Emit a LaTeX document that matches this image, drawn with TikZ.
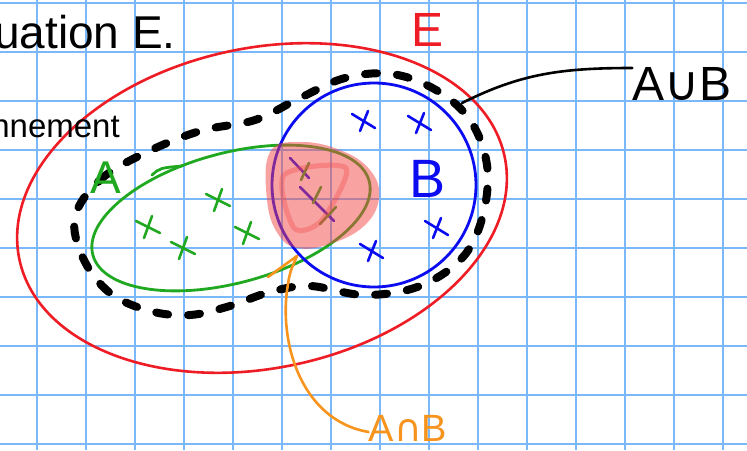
\documentclass[tikz,border=0pt]{standalone}
\usepackage{fontspec}
\setmainfont{Liberation Sans}
\newfontfamily\symf{DejaVu Sans}
\definecolor{gridc}{RGB}{122,184,250}
\definecolor{redE}{RGB}{238,28,36}
\definecolor{grnA}{RGB}{32,168,32}
\definecolor{bluB}{RGB}{12,12,240}
\definecolor{orng}{RGB}{247,148,30}
\definecolor{blobc}{RGB}{243,71,71}
\begin{document}
\begin{tikzpicture}[x=1pt,y=-1pt,
  gridline/.style={gridc, line width=1.8pt},
  setE/.style={redE, line width=2.6pt},
  setA/.style={grnA, line width=2.8pt},
  setB/.style={bluB, line width=2.8pt},
  unionline/.style={black, line width=8pt, line cap=round, dash pattern=on 12pt off 20pt},
  xa/.style={grnA, line width=2.6pt, line cap=round},
  xb/.style={bluB, line width=2.6pt, line cap=round},
  pointer/.style={line width=2.6pt, line cap=round},
  lbl/.style={inner sep=0pt, anchor=base}]
\useasboundingbox (0,0) rectangle (747,450);
\clip (0,0) rectangle (747,450);
\fill[white] (0,0) rectangle (747,450);
% grid
\foreach \x in {37,86,...,740} \draw[gridline] (\x,0) -- (\x,450);
\foreach \y in {3,52,...,450} \draw[gridline] (0,\y) -- (747,\y);
% universe E
\draw[setE, shift={(262,208)}, rotate=12] (0,0) ellipse [x radius=248pt, y radius=160pt];
% union dashed
\draw[unionline] plot[smooth cycle, tension=0.6] coordinates {
 (75,217) (100,180) (145,153) (200,131) (255,120) (300,98) (345,78) (392,74)
 (436,90) (470,120) (487,165) (483,215) (463,257) (420,286) (365,295)
 (310,286) (270,292) (230,306) (190,315) (150,311) (110,293) (83,258)};
% set A
\draw[setA, shift={(231,218)}, rotate=15] (0,0) ellipse [x radius=143pt, y radius=65pt];
\draw[setA, line cap=round] (152,175) .. controls (160,168) .. (182,166);
% set B
\draw[setB] (374,185) circle [radius=102pt];
% crosses in A
\foreach \p in {(148,227),(218,200),(183,248),(247,233)}
  \draw[xa] \p +(-12,-6) -- +(12,6) +(4,-11) -- +(-4,11);
% crosses in B
\foreach \p in {(364,121),(420,123),(437,228),(372,251)}
  \draw[xb] \p +(-12,-7) -- +(11,7) +(4,-10) -- +(-4,10);
% crosses in intersection
\draw[xb] (290,158) -- (309,178);
\draw[xb] (300,187) -- (334,221);
\draw[xa] (309,163) -- (301,180);
\draw[xa] (321,187) -- (313,203);
\draw[xa] (336,207) -- (320,224);
% intersection highlight
\fill[blobc, opacity=0.5] plot[smooth cycle, tension=0.7] coordinates {
 (270,152) (300,142) (340,150) (370,170) (379,198) (364,226) (330,244)
 (298,248) (278,234) (267,200)};
\draw[blobc, opacity=0.35, line width=5pt, line join=round] plot[smooth cycle, tension=0.5] coordinates {
 (284,175) (346,168) (322,220) (294,228)};
% labels
\node[lbl, redE, font=\fontsize{48}{50}\selectfont] (lE) at (428,46) {E};
\node[lbl, grnA, font=\fontsize{46}{48}\selectfont] (lA) at (106,193) {A};
\node[lbl, bluB, font=\fontsize{54}{56}\selectfont] (lB) at (428,197) {B};
\node[lbl, font=\fontsize{48}{50}\selectfont] (lU) at (682,100) {A{\symf ∪}B};
\node[lbl, orng, font=\fontsize{38}{40}\selectfont] (lI) at (408,441) {A{\symf ∩}B};
\node[inner sep=0pt, anchor=base east, font=\fontsize{46}{48}\selectfont] (t1) at (176,48) {situation E.};
\node[inner sep=0pt, anchor=base east, font=\fontsize{33}{35}\selectfont] (t2) at (120,137) {environnement};
% pointers
\coordinate (pU) at (462,103);
\draw[pointer] (pU) .. controls (520,74) and (560,68) .. (lU.west |- 0,68);
\coordinate (pI) at (297,256);
\draw[orng, pointer] (lI.west |- 0,432) .. controls (300,420) and (278,340) .. (288,284) .. controls (290,272) .. (pI);
\draw[orng, pointer] (pI) -- (268,277);
\end{tikzpicture}
\end{document}
